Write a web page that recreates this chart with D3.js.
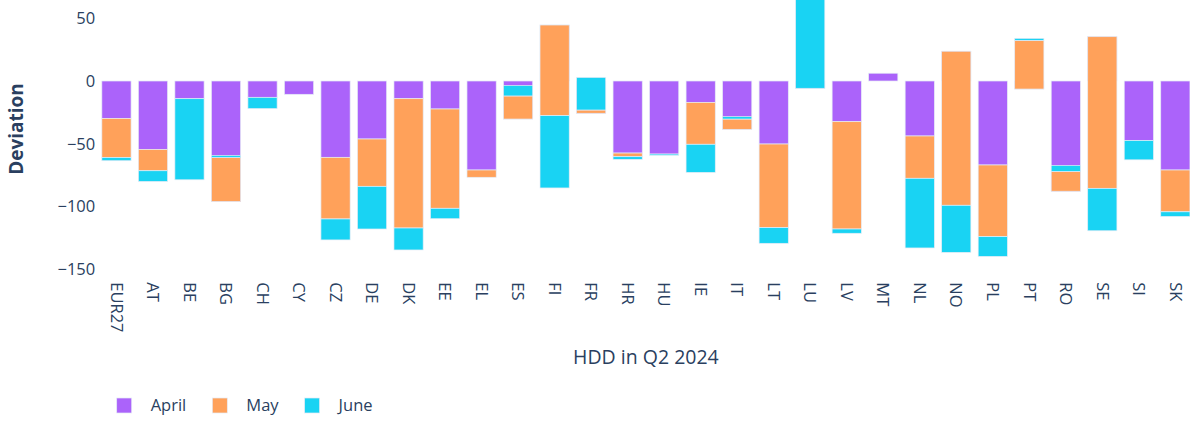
<!DOCTYPE html>
<html>
<head>
<meta charset="utf-8">
<script src="https://cdn.jsdelivr.net/npm/d3@7"></script>
<style>
  body { margin: 0; background: #fff; }
  svg { display: block; }
</style>
</head>
<body>
<div id="chart_hdd_q2"></div>
<script>

// Countries on the x axis
const countries = [ 'EUR27', 'AT', 'BE', 'BG', 'CH', 'CY', 'CZ', 'DE', 'DK', 'EE',
  'EL', 'ES', 'FI', 'FR', 'HR', 'HU', 'IE', 'IT', 'LT', 'LU',
  'LV', 'MT', 'NL', 'NO', 'PL', 'PT', 'RO', 'SE', 'SI', 'SK' ];

// Deviation per month (stacked cumulatively, plotly 'stack' mode)
const april = [ -29.8, -54.5, -14.1, -96, -13, -10.6, -60.8, -46.2, -14.1, -22.3,
  -70.9, -30.3, 44.6, -25.7, -57.4, -58.2, -17, -38.5, -50.2, -5.8,
  -32.4, 6.2, -43.8, 23.7, -66.9, -6.4, -87.8, 35.3, -47.4, -70.9 ];
const may = [ -31.1, -17, 0, 35.1, 0, 0, -49.1, -37.7, -103, -79.1,
  -5.8, 18.4, -72.2, 2.6, -2.9, 0, -33.4, 8.2, -66.6, 0,
  -85.5, 0, -33.7, -122.7, -57.1, 38.8, 15.8, -120.8, 0, -33.3 ];
const june = [ -2.6, -8.5, -64.6, 1.6, -9, 0, -16.7, -34, -17.5, -8.3,
  0, 8.4, -57.6, 26, -2.1, -1, -22.4, 1.9, -12.5, 86,
  -3.4, 0, -55.5, -37.5, -15.7, 1.6, 4.8, -33.8, -15.4, -3.7 ];

const months = [ 'April', 'May', 'June' ];
const bar_colors = [ '#AB63FA', '#FFA15A', '#19D3F3' ];
const yTicks = [ 50, 0, -50, -100, -150 ];

const xAxisTitle = 'HDD in Q2 2024';
const yAxisTitle = 'Deviation';

const textColor = '#2a3f5f';
const fontFamily = '"Open Sans", "Noto Sans", sans-serif';

const figure_width = 1190;
const figure_height = 421;

// plot area (the right edge runs a bit past the window, like the original)
const plot = { left: 98.2, right: 1193.6, top: 0, bottom: 269.3 };

const data = countries.map( function( c, i ) {
  return { country: c, April: april[i], May: may[i], June: june[i] };
});

const svg = d3.select( 'div#chart_hdd_q2' )
  .append( 'svg' )
    .attr( 'width', figure_width )
    .attr( 'height', figure_height )
    .style( 'font-family', fontFamily );

const x = d3.scaleBand()
  .domain( countries )
  .range( [ plot.left, plot.right ] )
  .paddingInner( 0.2 )
  .paddingOuter( 0.1 );

const y = d3.scaleLinear()
  .domain( [ -150, 64.53 ] )
  .range( [ plot.bottom, plot.top ] );

const color = d3.scaleOrdinal()
  .domain( months )
  .range( bar_colors );

// plain cumulative stacking, negatives included
const stacked = d3.stack().keys( months )( data );

svg.append( 'g' )
  .selectAll( 'g' )
  .data( stacked )
  .enter()
  .append( 'g' )
    .attr( 'fill', function( d ) { return color( d.key ); } )
  .selectAll( 'rect' )
  .data( function( d ) { return d.filter( function( s ) { return Math.abs( s[1] - s[0] ) > 0.01; } ); } )
  .enter()
  .append( 'rect' )
    .attr( 'x', function( d ) { return x( d.data.country ); } )
    .attr( 'y', function( d ) { return y( Math.max( d[0], d[1] ) ); } )
    .attr( 'width', x.bandwidth() )
    .attr( 'height', function( d ) { return Math.abs( y( d[0] ) - y( d[1] ) ); } )
    .attr( 'stroke', '#E5ECF6' )
    .attr( 'stroke-width', 0.7 );

// Y axis, labels only
const yAxis = svg.append( 'g' )
  .attr( 'transform', 'translate(' + plot.left + ',0)' )
  .call( d3.axisLeft( y ).tickValues( yTicks ).tickSize( 0 ).tickPadding( 3 ) );
yAxis.select( '.domain' ).remove();
yAxis.selectAll( 'text' )
  .attr( 'fill', textColor )
  .style( 'font-size', '16.5px' )
  .style( 'font-family', fontFamily );

// X axis, labels rotated down
const xAxis = svg.append( 'g' )
  .attr( 'transform', 'translate(0,' + plot.bottom + ')' )
  .call( d3.axisBottom( x ).tickSize( 0 ) );
xAxis.select( '.domain' ).remove();
xAxis.selectAll( 'text' )
  .attr( 'fill', textColor )
  .attr( 'x', 13 )
  .attr( 'y', 0 )
  .attr( 'dy', '0.35em' )
  .attr( 'transform', 'rotate(90)' )
  .style( 'text-anchor', 'start' )
  .style( 'font-size', '16.5px' )
  .style( 'font-family', fontFamily );

// axis titles
svg.append( 'text' )
  .attr( 'x', ( plot.left + plot.right ) / 2 )
  .attr( 'y', 357 )
  .attr( 'dy', '0.35em' )
  .attr( 'text-anchor', 'middle' )
  .attr( 'fill', textColor )
  .style( 'font-size', '19.5px' )
  .text( xAxisTitle );

svg.append( 'g' )
  .attr( 'transform', 'translate(16,129)' )
  .append( 'text' )
    .attr( 'text-anchor', 'middle' )
    .attr( 'dy', '0.35em' )
    .attr( 'transform', 'rotate(-90)' )
    .attr( 'fill', textColor )
    .style( 'font-size', '19px' )
    .style( 'font-weight', 'bold' )
    .text( yAxisTitle );

// Legend, horizontal at the bottom
const legend = svg.append( 'g' ).attr( 'transform', 'translate(0,405.5)' );
let legendX = 116.7;
months.forEach( function( m ) {
  legend.append( 'rect' )
    .attr( 'x', legendX )
    .attr( 'y', -7.5 )
    .attr( 'width', 15 )
    .attr( 'height', 15 )
    .attr( 'fill', color( m ) )
    .attr( 'stroke', '#E5ECF6' )
    .attr( 'stroke-width', 0.7 );
  const t = legend.append( 'text' )
    .attr( 'x', legendX + 34 )
    .attr( 'y', 0 )
    .attr( 'dy', '0.35em' )
    .attr( 'fill', textColor )
    .style( 'font-size', '16.5px' )
    .text( m );
  legendX = legendX + 34 + t.node().getComputedTextLength() + 26;
});

</script>
</body>
</html>
